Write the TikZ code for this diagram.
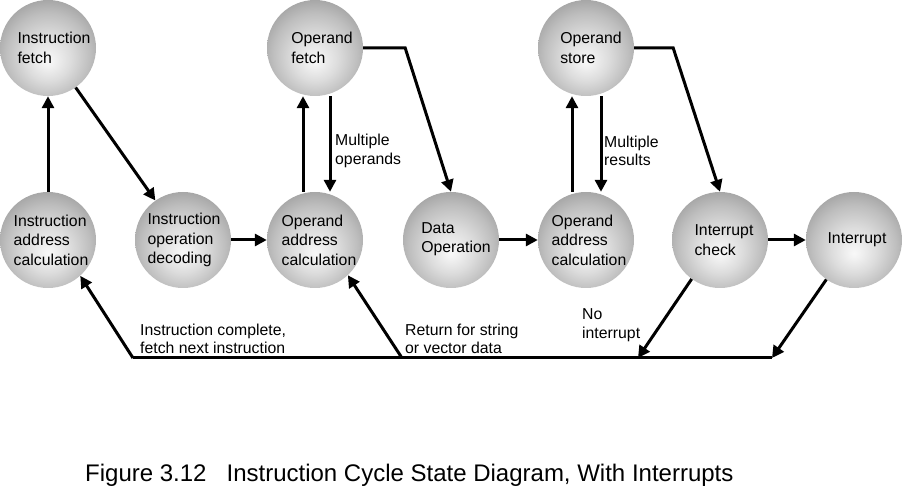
\documentclass[tikz,border=0pt]{standalone}
\usepackage{fontspec}
\setmainfont{Liberation Sans}
\usetikzlibrary{arrows.meta,calc}
\definecolor{sc0}{RGB}{248,248,248}
\definecolor{sc1}{RGB}{242,242,242}
\definecolor{sc2}{RGB}{220,220,220}
\definecolor{sc3}{RGB}{190,190,190}
\definecolor{sc4}{RGB}{152,152,152}
\pgfdeclareradialshading{sball}{\pgfpoint{0bp}{-7bp}}{color(0bp)=(sc0); color(3bp)=(sc1); color(12bp)=(sc2); color(22bp)=(sc3); color(32bp)=(sc4); color(50bp)=(sc4)}
\begin{document}
\begin{tikzpicture}[x=1pt,y=-1pt,
  state/.style={circle,minimum size=96pt,inner sep=0pt,shading=sball},
  stxt/.style={align=left,inner sep=0pt,font=\fontsize{15.8}{19.5}\selectfont},
  lbl/.style={align=left,inner sep=0pt,anchor=west,font=\fontsize{15.8}{18.5}\selectfont},
  conn/.style={line width=3pt,-{Triangle[length=12pt,width=12pt]}},
  plain/.style={line width=3pt}]
\useasboundingbox (0,0) rectangle (903,494);
% states
\node[state] (ifetch) at (48,48) {};
\node[state] (ostore) at (586,48) {};
\node[state] (ofetch) at (315,48) {};
\node[state] (iac) at (48,240) {};
\node[state] (iod) at (183,240) {};
\node[state] (oac1) at (315,240) {};
\node[state] (dataop) at (451,240) {};
\node[state] (oac2) at (586,240) {};
\node[state] (icheck) at (720,240) {};
\node[state] (intr) at (854,240) {};
% texts
\node[stxt] (ifetch-t) at ([xshift=6pt]ifetch.center) {Instruction\\fetch};
\node[stxt] (ofetch-t) at ([xshift=7pt]ofetch.center) {Operand\\fetch};
\node[stxt] (ostore-t) at ([xshift=5pt]ostore.center) {Operand\\store};
\node[stxt] (iac-t) at ([xshift=3pt]iac.center) {Instruction\\address\\calculation};
\node[stxt] (iod-t) at ([xshift=1pt]iod.center) {Instruction\\operation\\decoding};
\node[stxt] (oac1-t) at ([xshift=4pt]oac1.center) {Operand\\address\\calculation};
\node[stxt] (dataop-t) at ([xshift=5pt,yshift=1pt]dataop.center) {Data\\Operation};
\node[stxt] (oac2-t) at ([xshift=3pt]oac2.center) {Operand\\address\\calculation};
\node[stxt] (icheck-t) at ([xshift=4pt]icheck.center) {Interrupt\\check};
\node[stxt] (intr-t) at ([xshift=3pt]intr.center) {Interrupt};
% connectors
\draw[conn] (iac.north) -- (ifetch.south);
\draw[conn] (ifetch.-55) -- (iod.125);
\draw[conn] (iod.east) -- (oac1.west);
\draw[conn] ([xshift=-12pt]oac1.north) -- ([xshift=-12pt]ofetch.south);
\draw[conn] ([xshift=15pt]ofetch.south) -- ([xshift=15pt]oac1.north);
\draw[conn] (ofetch.east) -- ([xshift=42pt]ofetch.east) -- (dataop.north);
\draw[conn] (dataop.east) -- (oac2.west);
\draw[conn] ([xshift=-14pt]oac2.north) -- ([xshift=-14pt]ostore.south);
\draw[conn] ([xshift=15pt]ostore.south) -- ([xshift=15pt]oac2.north);
\draw[conn] (ostore.east) -- ([xshift=39pt]ostore.east) -- (icheck.north);
\draw[conn] (icheck.east) -- (intr.west);
% bottom return line
\coordinate (b0) at (133,358);
\coordinate (b1) at (402,358);
\coordinate (b2) at (638,358);
\coordinate (b3) at (772,358);
\draw[plain] (b0) -- (b3);
\draw[conn] (b0) -- (iac.-48);
\draw[conn] (b1) -- (oac1.-47);
\draw[conn] (icheck.-126) -- (b2);
\draw[conn] (intr.-125) -- (b3);
% labels
\node[lbl] (l-mo) at (335,151) {Multiple\\operands};
\node[lbl] (l-mr) at (604,151) {Multiple\\results};
\node[lbl] (l-ic) at (140,339) {Instruction complete,\\fetch next instruction};
\node[lbl] (l-rs) at (405,339) {Return for string\\or vector data};
\node[lbl] (l-ni) at (582,325) {No\\interrupt};
% caption
\node[anchor=base west,inner sep=0pt,font=\fontsize{24}{28}\selectfont] (cap) at (85,482) {Figure 3.12\hspace{20pt}Instruction Cycle State Diagram, With Interrupts};
\end{tikzpicture}
\end{document}
